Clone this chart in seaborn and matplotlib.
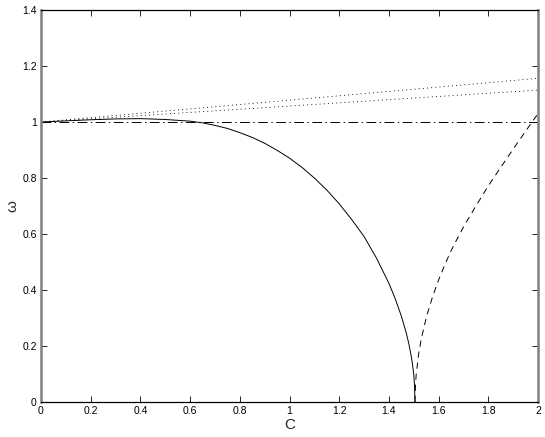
import matplotlib
matplotlib.use("Agg")
import matplotlib.pyplot as plt
import seaborn as sns

# --- data ---
solid_c = [0.0, 0.1, 0.2, 0.3, 0.4, 0.5, 0.6, 0.65, 0.7, 0.75, 0.8, 0.85, 0.9, 0.95,
           1.0, 1.05, 1.1, 1.15, 1.2, 1.25, 1.3, 1.35, 1.4, 1.425, 1.45, 1.47,
           1.48, 1.49, 1.495, 1.5, 1.503, 1.505]
solid_w = [1.000, 1.004, 1.008, 1.011, 1.012, 1.009, 1.003, 0.997, 0.988, 0.977,
           0.962, 0.945, 0.924, 0.899, 0.871, 0.838, 0.800, 0.757, 0.708, 0.652,
           0.591, 0.514, 0.424, 0.370, 0.307, 0.246, 0.209, 0.163, 0.134, 0.098,
           0.060, 0.0]

dashed_c = [1.505, 1.507, 1.51, 1.52, 1.53, 1.55, 1.575, 1.6, 1.625, 1.65, 1.675,
            1.7, 1.75, 1.8, 1.85, 1.9, 1.95, 2.0]
dashed_w = [0.0, 0.063, 0.10, 0.173, 0.224, 0.30, 0.374, 0.436, 0.49, 0.54, 0.583,
            0.625, 0.70, 0.772, 0.838, 0.903, 0.967, 1.03]

dashdot_c = [0.0, 2.0]
dashdot_w = [1.0, 1.0]

dot_upper_c = [0.0, 1.0, 2.0]
dot_upper_w = [1.0, 1.078, 1.156]
dot_lower_c = [0.0, 1.0, 2.0]
dot_lower_w = [1.0, 1.057, 1.114]

x_ticks = [0, 0.2, 0.4, 0.6, 0.8, 1, 1.2, 1.4, 1.6, 1.8, 2]
x_labels = ["0", "0.2", "0.4", "0.6", "0.8", "1", "1.2", "1.4", "1.6", "1.8", "2"]
y_ticks = [0, 0.2, 0.4, 0.6, 0.8, 1, 1.2, 1.4]
y_labels = ["0", "0.2", "0.4", "0.6", "0.8", "1", "1.2", "1.4"]

sns.set_style("ticks")
plt.rcParams["font.family"] = ["Liberation Sans", "DejaVu Sans"]
plt.rcParams["lines.scale_dashes"] = False

fig = plt.figure(figsize=(5.45, 4.37), dpi=100)
ax = fig.add_axes([41 / 545, 1 - 402 / 437, (538 - 41) / 545, (402 - 10) / 437])

lw = 0.7
sns.lineplot(x=solid_c, y=solid_w, ax=ax, color="black", lw=lw, sort=False)
sns.lineplot(x=dashed_c, y=dashed_w, ax=ax, color="black", lw=lw, sort=False,
             linestyle=(0, (4.5, 3.5)))
sns.lineplot(x=dashdot_c, y=dashdot_w, ax=ax, color="black", lw=lw,
             linestyle=(0, (7, 2.5, 1, 2.5)))
sns.lineplot(x=dot_upper_c, y=dot_upper_w, ax=ax, color="black", lw=0.6,
             linestyle=(0, (0.7, 2.3)))
sns.lineplot(x=dot_lower_c, y=dot_lower_w, ax=ax, color="black", lw=0.6,
             linestyle=(0, (0.7, 2.3)))

ax.set_xlim(0, 2)
ax.set_ylim(0, 1.4)
ax.set_xticks(x_ticks)
ax.set_xticklabels(x_labels)
ax.set_yticks(y_ticks)
ax.set_yticklabels(y_labels)
ax.tick_params(direction="in", length=4, width=0.6, labelsize=7.5, colors="black",
               top=True, right=True, pad=3)

for side in ["top", "bottom"]:
    ax.spines[side].set_color("black")
    ax.spines[side].set_linewidth(0.9)
    ax.spines[side].set_visible(True)
for side in ["left", "right"]:
    ax.spines[side].set_color("#808080")
    ax.spines[side].set_linewidth(1.8)
    ax.spines[side].set_visible(True)

ax.set_xlabel("C", fontsize=11, labelpad=1)
ax.set_ylabel("ω", fontsize=11, labelpad=2)

fig.savefig("out.png", dpi=100)
